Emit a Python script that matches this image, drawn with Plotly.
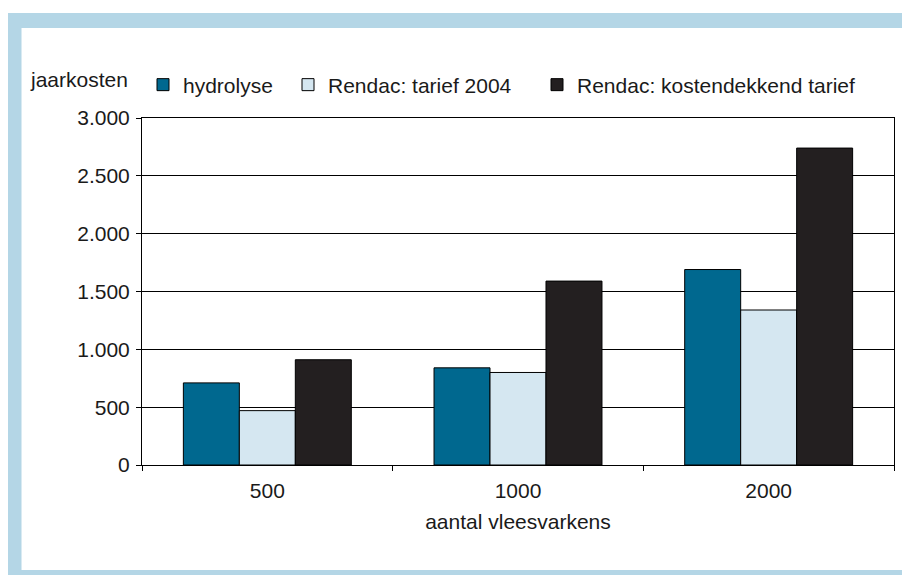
import plotly.graph_objects as go

categories = ["500", "1000", "2000"]
hydrolyse = [710, 840, 1690]
rendac_2004 = [470, 800, 1340]
rendac_kosten = [910, 1590, 2740]
series_names = ["hydrolyse", "Rendac: tarief 2004", "Rendac: kostendekkend tarief"]
y_tickvals = [0, 500, 1000, 1500, 2000, 2500, 3000]
y_ticktext = ["0", "500", "1.000", "1.500", "2.000", "2.500", "3.000"]

colors = ["#00688F", "#D5E7F1", "#231F20"]
FONT = "Liberation Sans, Arial, sans-serif"

# page has an 8px body margin: work in reference pixels minus 8
OFF = 8
W, H = 910 - OFF, 575 - OFF
L, R, T, B = 142 - OFF, 16, 118 - OFF, 110
PW, PH = W - L - R, H - T - B

def px_x(px):
    return (px - OFF - L) / PW

def px_y(py):
    return (H - B - (py - OFF)) / PH

fig = go.Figure()
legends = ["legend", "legend2", "legend3"]
for name, vals, col, lg in zip(series_names, [hydrolyse, rendac_2004, rendac_kosten], colors, legends):
    fig.add_trace(go.Bar(
        x=categories, y=vals, name=name, legend=lg,
        marker=dict(color=col, line=dict(color="#000000", width=1)),
    ))

leg_common = dict(orientation="h", yanchor="middle", xanchor="left",
                  font=dict(family=FONT, size=21, color="#1a1a1a"),
                  bgcolor="rgba(0,0,0,0)", borderwidth=0)
leg_x = [143, 288, 537]
ly = px_y(85)

fig.update_layout(
    width=W, height=H,
    margin=dict(l=L, r=R, t=T, b=B),
    paper_bgcolor="white", plot_bgcolor="white",
    barmode="group", bargap=0.33, bargroupgap=0,
    font=dict(family=FONT, size=21, color="#1a1a1a"),
    showlegend=True,
    legend=dict(x=px_x(leg_x[0]), y=ly, **leg_common),
    legend2=dict(x=px_x(leg_x[1]), y=ly, **leg_common),
    legend3=dict(x=px_x(leg_x[2]), y=ly, **leg_common),
    xaxis=dict(
        type="category", tickson="boundaries", ticks="outside", ticklen=5,
        tickcolor="#000000", tickwidth=1, ticklabelstandoff=7,
        showline=True, linecolor="#000000", linewidth=1, mirror=True,
        showgrid=False,
        title=dict(text="aantal vleesvarkens", standoff=13,
                   font=dict(family=FONT, size=21)),
        tickfont=dict(family=FONT, size=21),
    ),
    yaxis=dict(
        range=[0, 3000], tickvals=y_tickvals, ticktext=y_ticktext,
        ticks="outside", ticklen=5, tickcolor="#000000", tickwidth=1,
        ticklabelstandoff=2,
        showline=True, linecolor="#000000", linewidth=1, mirror=True,
        showgrid=True, gridcolor="#000000", gridwidth=1,
        zeroline=False,
        tickfont=dict(family=FONT, size=21),
    ),
    annotations=[dict(
        text="jaarkosten", xref="paper", yref="paper",
        x=px_x(28), y=px_y(79), xanchor="left", yanchor="middle",
        showarrow=False, font=dict(family=FONT, size=21, color="#1a1a1a"),
    )],
    shapes=[dict(
        type="rect", xref="paper", yref="paper", layer="above",
        x0=px_x(14), x1=px_x(913.5), y0=px_y(577.5), y1=px_y(20.5),
        line=dict(color="#B4D6E6", width=15), fillcolor="rgba(0,0,0,0)",
    )],
)

fig.write_html("out.html")
